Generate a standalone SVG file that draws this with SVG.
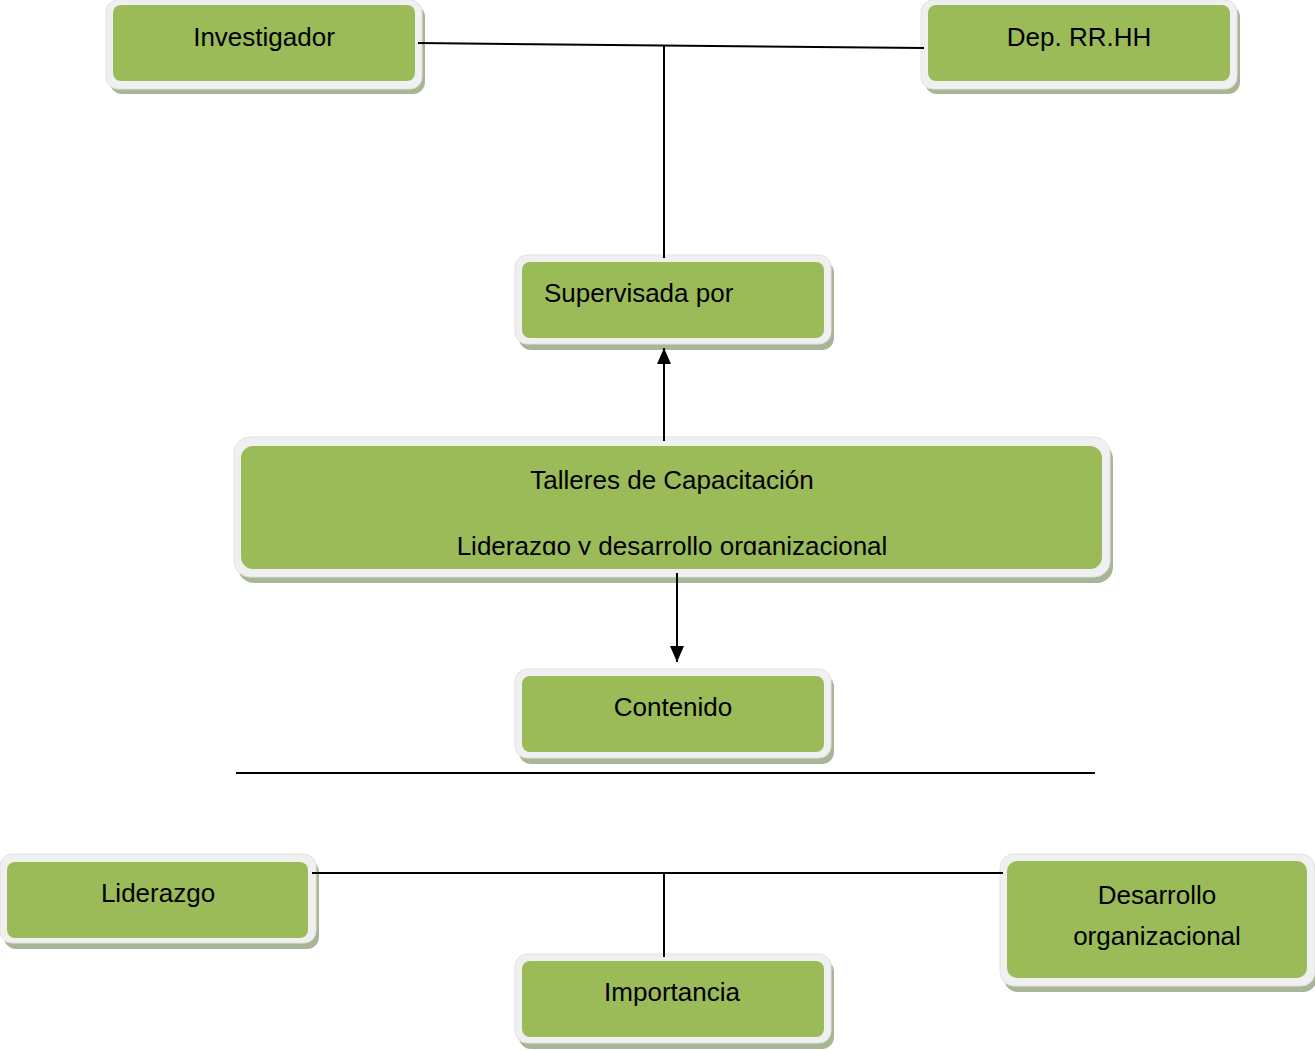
<svg xmlns="http://www.w3.org/2000/svg" width="1315" height="1051" viewBox="0 0 1315 1051">
<style>
.sh{fill:#a8b697}
.fr{fill:#f0f0f0;stroke:#e2e2e2;stroke-width:1}
.in{fill:#9bbb59}
.t{font-family:"Liberation Sans",Arial,sans-serif;font-size:26px;fill:#000;text-anchor:middle}
.ln{stroke:#000;stroke-width:2;fill:none}
</style>
<defs>
<marker id="ah" viewBox="0 0 16 14" refX="16" refY="7" markerWidth="16" markerHeight="14" orient="auto" markerUnits="userSpaceOnUse">
<path d="M0,0 L16,7 L0,14 z" fill="#000"/>
</marker>
<clipPath id="clipT"><rect x="241" y="446" width="861" height="109"/></clipPath>
</defs>
<g id="investigador">
<rect class="sh" x="110" y="5" width="315" height="89" rx="12"/>
<rect class="fr" x="106" y="0" width="316" height="89" rx="12"/>
<rect class="in" x="113" y="5" width="302" height="76" rx="8"/>
<text class="t" x="264" y="46">Investigador</text>
</g>
<g id="dep-rrhh">
<rect class="sh" x="925" y="5" width="315" height="89" rx="12"/>
<rect class="fr" x="921" y="0" width="316" height="89" rx="12"/>
<rect class="in" x="928" y="5" width="302" height="76" rx="8"/>
<text class="t" x="1079" y="46">Dep. RR.HH</text>
</g>
<g id="supervisada">
<rect class="sh" x="519" y="261" width="315" height="89" rx="12"/>
<rect class="fr" x="515" y="255" width="316" height="89" rx="12"/>
<rect class="in" x="522" y="262" width="302" height="76" rx="8"/>
<text class="t" x="544" y="302" style="text-anchor:start">Supervisada por</text>
</g>
<g id="talleres">
<rect class="sh" x="238" y="443" width="875" height="140" rx="16"/>
<rect class="fr" x="234" y="437" width="876" height="140" rx="16"/>
<rect class="in" x="241" y="446" width="861" height="123" rx="12"/>
<text class="t" x="672" y="489">Talleres de Capacitación</text>
<text class="t" x="672" y="555" clip-path="url(#clipT)">Liderazgo y desarrollo organizacional</text>
</g>
<g id="contenido">
<rect class="sh" x="519" y="675" width="315" height="89" rx="12"/>
<rect class="fr" x="515" y="669" width="316" height="89" rx="12"/>
<rect class="in" x="522" y="676" width="302" height="76" rx="8"/>
<text class="t" x="673" y="716">Contenido</text>
</g>
<g id="liderazgo">
<rect class="sh" x="4" y="860" width="315" height="89" rx="12"/>
<rect class="fr" x="0" y="854" width="316" height="89" rx="12"/>
<rect class="in" x="7" y="862" width="301" height="76" rx="8"/>
<text class="t" x="158" y="902">Liderazgo</text>
</g>
<g id="desarrollo">
<rect class="sh" x="1004" y="860" width="313" height="132" rx="14"/>
<rect class="fr" x="1000" y="854" width="315" height="132" rx="14"/>
<rect class="in" x="1007" y="861" width="300" height="117" rx="10"/>
<text class="t" x="1157" y="904">Desarrollo</text>
<text class="t" x="1157" y="945">organizacional</text>
</g>
<g id="importancia">
<rect class="sh" x="519" y="960" width="315" height="89" rx="12"/>
<rect class="fr" x="515" y="954" width="316" height="89" rx="12"/>
<rect class="in" x="522" y="961" width="302" height="76" rx="8"/>
<text class="t" x="672" y="1001">Importancia</text>
</g>
<g id="connectors">
<line class="ln" x1="418" y1="43" x2="924" y2="48"/>
<line class="ln" x1="664" y1="46" x2="664" y2="258"/>
<line class="ln" x1="664" y1="441" x2="664" y2="348" marker-end="url(#ah)"/>
<line class="ln" x1="677" y1="573" x2="677" y2="662" marker-end="url(#ah)"/>
<line class="ln" x1="236" y1="773" x2="1095" y2="773"/>
<line class="ln" x1="312" y1="873" x2="1003" y2="873"/>
<line class="ln" x1="664" y1="873" x2="664" y2="957"/>
</g>
</svg>
